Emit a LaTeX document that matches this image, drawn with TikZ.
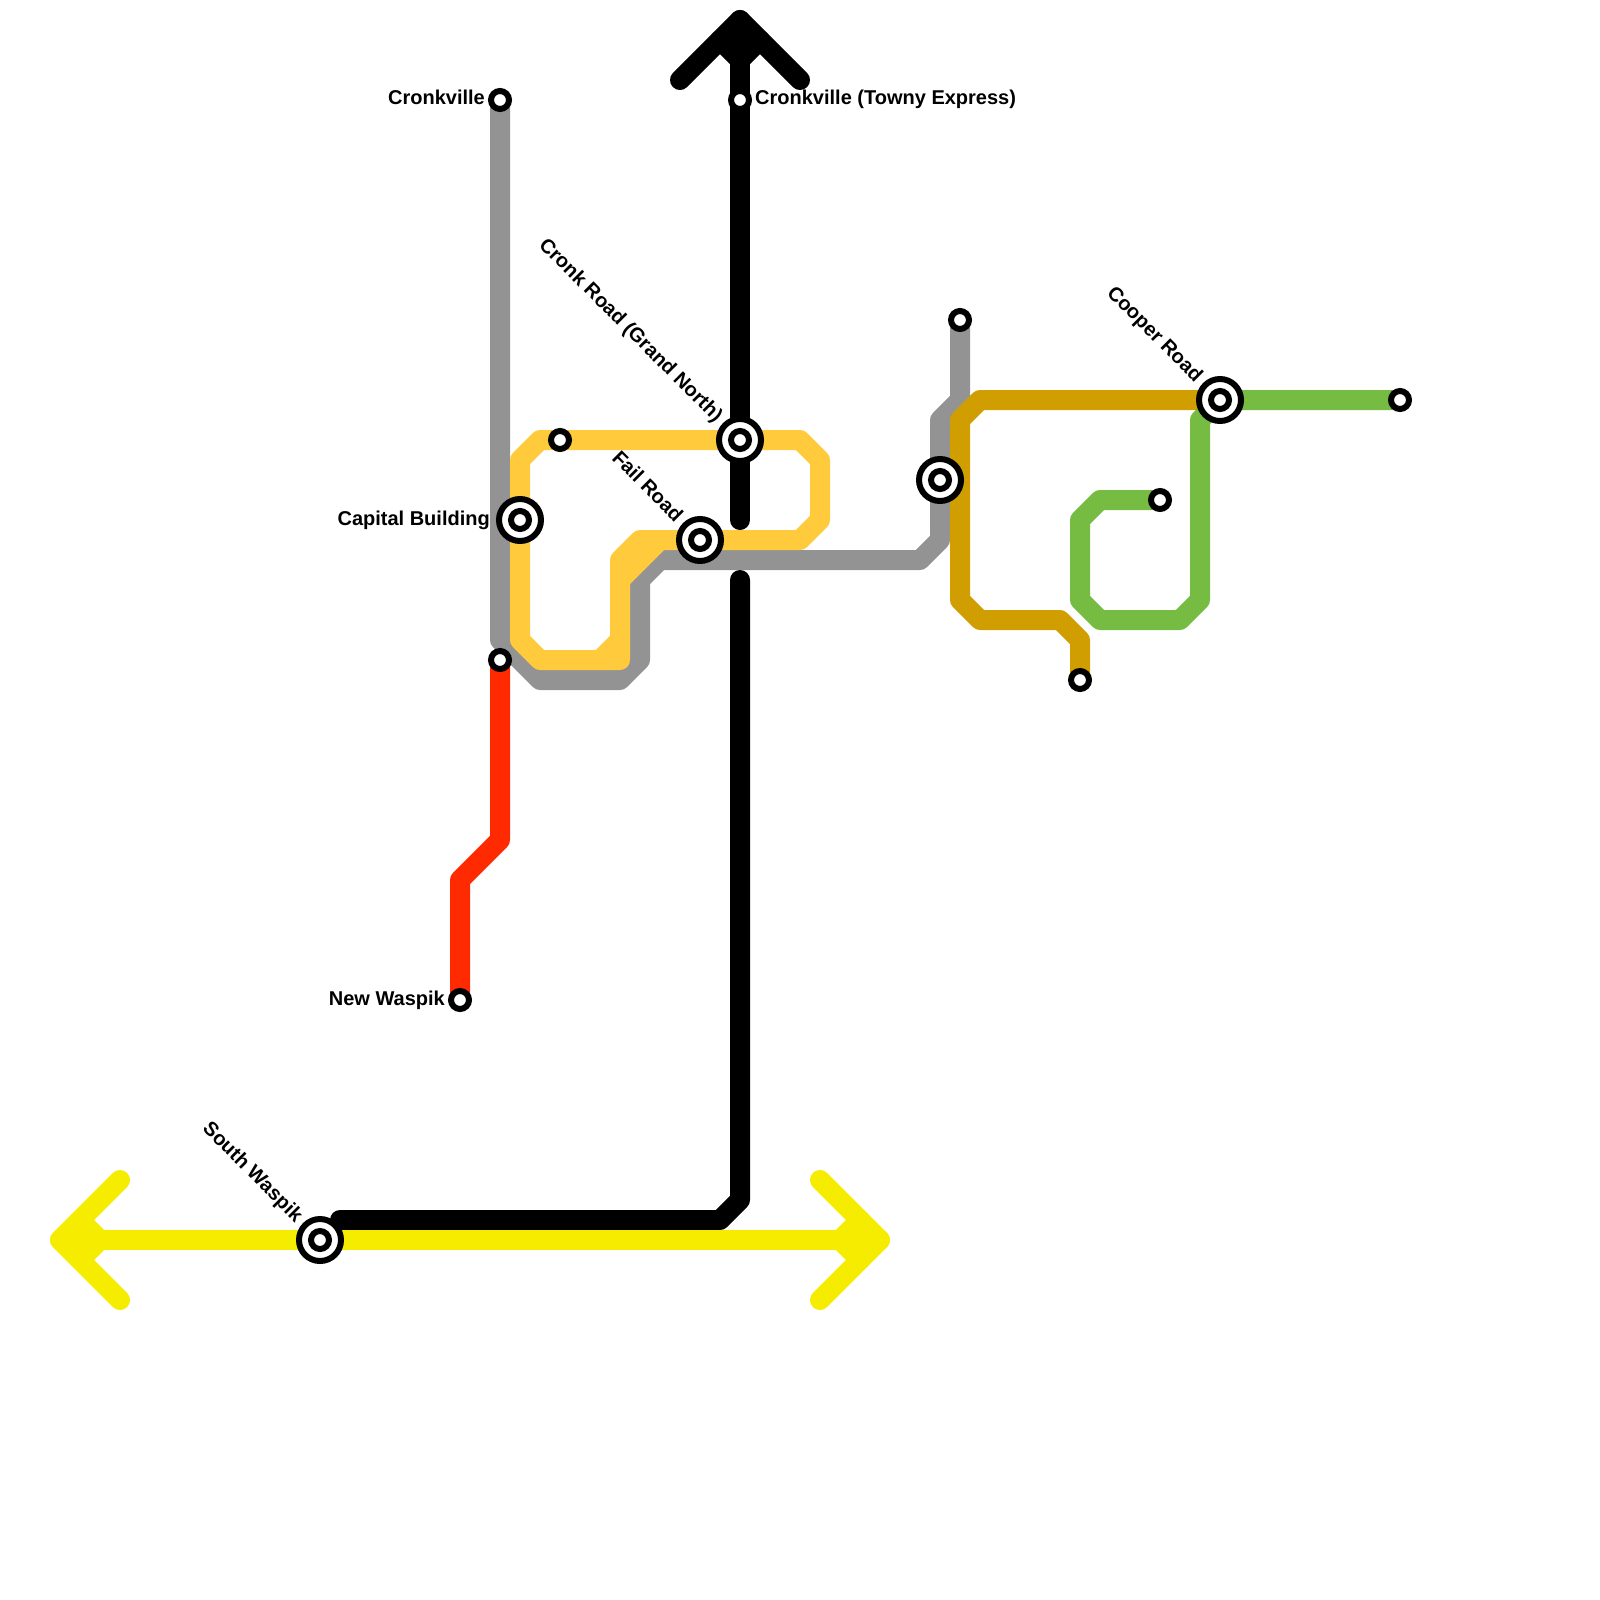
\documentclass[tikz,border=0pt]{standalone}
\usepackage{fontspec}
\setmainfont{Liberation Sans}
\usetikzlibrary{backgrounds}
\definecolor{cgrey}{HTML}{939393}
\definecolor{corange}{HTML}{FFCB3D}
\definecolor{cgold}{HTML}{D09E00}
\definecolor{cgreen}{HTML}{76BC43}
\definecolor{cred}{HTML}{FF2A00}
\definecolor{cyell}{HTML}{F5EC00}
\tikzset{
  route/.style={line width=20pt,line cap=round,line join=round},
  stn/.style={circle,draw=black,fill=white,line width=6pt,minimum size=18pt,inner sep=0pt,outer sep=0pt},
  bigstn/.style={circle,draw=black,fill=white,line width=6pt,minimum size=42pt,inner sep=0pt,outer sep=0pt},
  lbl/.style={font=\fontsize{20}{24}\selectfont\bfseries,inner sep=0pt,text=black},
  lblw/.style={lbl,anchor=base east},
  lble/.style={lbl,anchor=base west},
  lbld/.style={lbl,anchor=base east,rotate=-45},
}
\newcommand{\bigstation}[2]{%
  \node[bigstn] (#1) at #2 {};
  \node[stn] (#1-in) at #2 {};
}
\begin{document}
\begin{tikzpicture}[x=1pt,y=-1pt]
\useasboundingbox (0,0) rectangle (1600,1600);
% stations
\node[stn] (cronk) at (500,100) {};
\node[stn] (towny) at (740,100) {};
\node[stn] (orangeend) at (560,440) {};
\node[stn] (redtop) at (500,660) {};
\node[stn] (waspik) at (460,1000) {};
\node[stn] (greytop) at (960,320) {};
\node[stn] (goldend) at (1080,680) {};
\node[stn] (greenmid) at (1160,500) {};
\node[stn] (greenend) at (1400,400) {};
\bigstation{cronkroad}{(740,440)}
\bigstation{fail}{(700,540)}
\bigstation{capital}{(520,520)}
\bigstation{swap}{(940,480)}
\bigstation{cooper}{(1220,400)}
\bigstation{south}{(320,1240)}
% labels
\node[lblw] (l1) at (485,105) {Cronkville};
\node[lble] (l2) at (755,105) {Cronkville (Towny Express)};
\node[lblw] (l3) at (490,525) {Capital Building};
\node[lblw] (l4) at (445,1005) {New Waspik};
\node[lbld] (l5) at ([shift={(-25,-17)}]cronkroad.center) {Cronk Road (Grand North)};
\node[lbld] (l6) at ([shift={(-25,-17)}]fail.center) {Fail Road};
\node[lbld] (l7) at ([shift={(-25,-17)}]cooper.center) {Cooper Road};
\node[lbld] (l8) at ([shift={(-25,-17)}]south.center) {South Waspik};
\begin{scope}[on background layer]
% grey
\draw[route,cgrey] (cronk.center) -- (500,640) -- (540,680) -- (620,680) -- (640,660) -- (640,580) -- (660,560) -- (920,560) -- (940,540) -- (swap.center) -- (940,420) -- (960,400) -- (greytop.center);
% orange
\draw[route,corange] (orangeend.center) -- (540,440) -- (520,460) -- (capital.center) -- (520,640) -- (540,660) -- (620,660) -- (620,560) -- (640,540) -- (fail.center) -- (800,540) -- (820,520) -- (820,460) -- (800,440) -- (cronkroad.center) -- (orangeend.center);
\draw[route,corange] (620,640) -- (600,660);
\draw[route,corange] (620,580) -- (660,540);
% gold
\draw[route,cgold] (cooper.center) -- (980,400) -- (960,420) -- (960,600) -- (980,620) -- (1060,620) -- (1080,640) -- (goldend.center);
% green
\draw[route,cgreen] (greenend.center) -- (cooper.center) -- (1200,420) -- (1200,600) -- (1180,620) -- (1100,620) -- (1080,600) -- (1080,520) -- (1100,500) -- (greenmid.center);
% red
\draw[route,cred] (redtop.center) -- (500,840) -- (460,880) -- (waspik.center);
% black
\draw[route,black] (740,20) -- (towny.center) -- (cronkroad.center) -- (740,520);
\draw[route,black] (680,80) -- (740,20) -- (800,80);
\draw[route,black] (720,40) -- (740,60) -- (760,40);
\draw[route,black] (740,580) -- (740,1200) -- (720,1220) -- (340,1220);
% yellow
\draw[route,cyell] (60,1240) -- (south.center) -- (880,1240);
\draw[route,cyell] (120,1180) -- (60,1240) -- (120,1300);
\draw[route,cyell] (80,1220) -- (100,1240) -- (80,1260);
\draw[route,cyell] (820,1180) -- (880,1240) -- (820,1300);
\draw[route,cyell] (860,1220) -- (840,1240) -- (860,1260);
\end{scope}
\end{tikzpicture}
\end{document}
